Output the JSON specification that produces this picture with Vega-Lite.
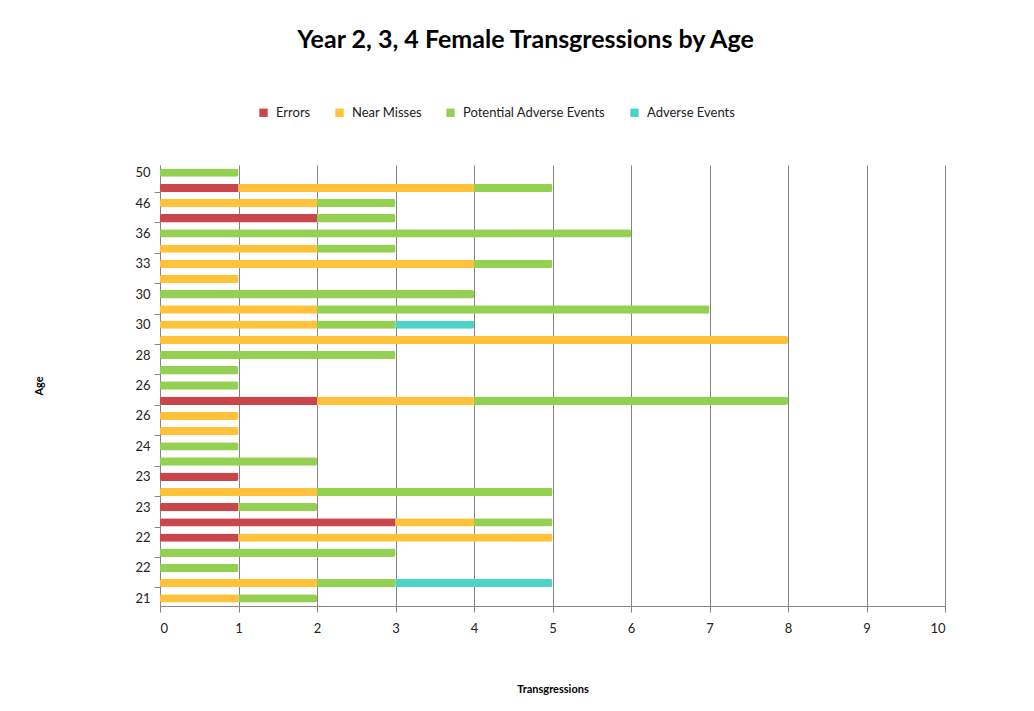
{
  "$schema": "https://vega.github.io/schema/vega-lite/v6.json",
  "width": 785,
  "height": 441,
  "autosize": {"type": "none"},
  "padding": {"left": 160, "top": 165, "right": 89, "bottom": 105},
  "background": "white",
  "config": {
    "font": "Lato",
    "view": {"stroke": null}
  },
  "title": {
    "text": "Year 2, 3, 4 Female Transgressions by Age",
    "fontSize": 25,
    "fontWeight": "bold",
    "font": "Lato",
    "color": "#000000",
    "anchor": "middle",
    "dx": -27,
    "offset": 53
  },
  "data": {
    "values": [
      {"row": 1, "type": "Near Misses", "n": 1},
      {"row": 1, "type": "Potential Adverse Events", "n": 1},
      {"row": 2, "type": "Near Misses", "n": 2},
      {"row": 2, "type": "Potential Adverse Events", "n": 1},
      {"row": 2, "type": "Adverse Events", "n": 2},
      {"row": 3, "type": "Potential Adverse Events", "n": 1},
      {"row": 4, "type": "Potential Adverse Events", "n": 3},
      {"row": 5, "type": "Errors", "n": 1},
      {"row": 5, "type": "Near Misses", "n": 4},
      {"row": 6, "type": "Errors", "n": 3},
      {"row": 6, "type": "Near Misses", "n": 1},
      {"row": 6, "type": "Potential Adverse Events", "n": 1},
      {"row": 7, "type": "Errors", "n": 1},
      {"row": 7, "type": "Potential Adverse Events", "n": 1},
      {"row": 8, "type": "Near Misses", "n": 2},
      {"row": 8, "type": "Potential Adverse Events", "n": 3},
      {"row": 9, "type": "Errors", "n": 1},
      {"row": 10, "type": "Potential Adverse Events", "n": 2},
      {"row": 11, "type": "Potential Adverse Events", "n": 1},
      {"row": 12, "type": "Near Misses", "n": 1},
      {"row": 13, "type": "Near Misses", "n": 1},
      {"row": 14, "type": "Errors", "n": 2},
      {"row": 14, "type": "Near Misses", "n": 2},
      {"row": 14, "type": "Potential Adverse Events", "n": 4},
      {"row": 15, "type": "Potential Adverse Events", "n": 1},
      {"row": 16, "type": "Potential Adverse Events", "n": 1},
      {"row": 17, "type": "Potential Adverse Events", "n": 3},
      {"row": 18, "type": "Near Misses", "n": 8},
      {"row": 19, "type": "Near Misses", "n": 2},
      {"row": 19, "type": "Potential Adverse Events", "n": 1},
      {"row": 19, "type": "Adverse Events", "n": 1},
      {"row": 20, "type": "Near Misses", "n": 2},
      {"row": 20, "type": "Potential Adverse Events", "n": 5},
      {"row": 21, "type": "Potential Adverse Events", "n": 4},
      {"row": 22, "type": "Near Misses", "n": 1},
      {"row": 23, "type": "Near Misses", "n": 4},
      {"row": 23, "type": "Potential Adverse Events", "n": 1},
      {"row": 24, "type": "Near Misses", "n": 2},
      {"row": 24, "type": "Potential Adverse Events", "n": 1},
      {"row": 25, "type": "Potential Adverse Events", "n": 6},
      {"row": 26, "type": "Errors", "n": 2},
      {"row": 26, "type": "Potential Adverse Events", "n": 1},
      {"row": 27, "type": "Near Misses", "n": 2},
      {"row": 27, "type": "Potential Adverse Events", "n": 1},
      {"row": 28, "type": "Errors", "n": 1},
      {"row": 28, "type": "Near Misses", "n": 3},
      {"row": 28, "type": "Potential Adverse Events", "n": 1},
      {"row": 29, "type": "Potential Adverse Events", "n": 1}
    ]
  },
  "transform": [
    {"calculate": "indexof(['Errors','Near Misses','Potential Adverse Events','Adverse Events'], datum.type)", "as": "stackOrder"}
  ],
  "mark": {"type": "bar", "cornerRadius": 2},
  "encoding": {
    "y": {
      "field": "row",
      "type": "ordinal",
      "sort": "descending",
      "scale": {"paddingInner": 0.45, "paddingOuter": 0.225},
      "axis": {
        "title": "Age",
        "titleFontSize": 11,
        "titleFontWeight": "bold",
        "titleColor": "#000000",
        "titlePadding": 90,
        "labelExpr": "['21','','22','','22','','23','','23','','24','','26','','26','','28','','30','','30','','33','','36','','46','','50'][datum.value-1]",
        "labelFontSize": 13,
        "labelColor": "#222222",
        "labelPadding": 4,
        "domainColor": "#868686",
        "tickColor": "#868686",
        "tickBand": "extent",
        "tickOpacity": {"condition": {"test": "datum.value % 2 == 0", "value": 1}, "value": 0},
        "tickSize": 6,
        "grid": false
      }
    },
    "x": {
      "field": "n",
      "type": "quantitative",
      "aggregate": "sum",
      "stack": "zero",
      "scale": {"domain": [0, 10], "nice": false},
      "axis": {
        "title": "Transgressions",
        "titleFontSize": 11,
        "titleFontWeight": "bold",
        "titleColor": "#000000",
        "titlePadding": 48,
        "values": [0,1,2,3,4,5,6,7,8,9,10],
        "labelOverlap": false,
        "labelFontSize": 13,
        "labelColor": "#222222",
        "labelPadding": 10,
        "grid": true,
        "gridColor": "#868686",
        "gridWidth": 1,
        "domainColor": "#868686",
        "tickColor": "#868686",
        "tickSize": 6
      }
    },
    "color": {
      "field": "type",
      "type": "nominal",
      "scale": {
        "domain": ["Errors", "Near Misses", "Potential Adverse Events", "Adverse Events"],
        "range": ["#c9474a", "#ffc23a", "#94d052", "#4fd3c9"]
      },
      "legend": {
        "title": null,
        "orient": "none",
        "direction": "horizontal",
        "legendX": 97,
        "legendY": -59,
        "symbolType": "square",
        "symbolSize": 70,
        "symbolStrokeWidth": 0,
        "labelFontSize": 13,
        "labelColor": "#222222",
        "labelOffset": 6,
        "columnPadding": 22
      }
    },
    "order": {"field": "stackOrder", "type": "quantitative"}
  }
}
